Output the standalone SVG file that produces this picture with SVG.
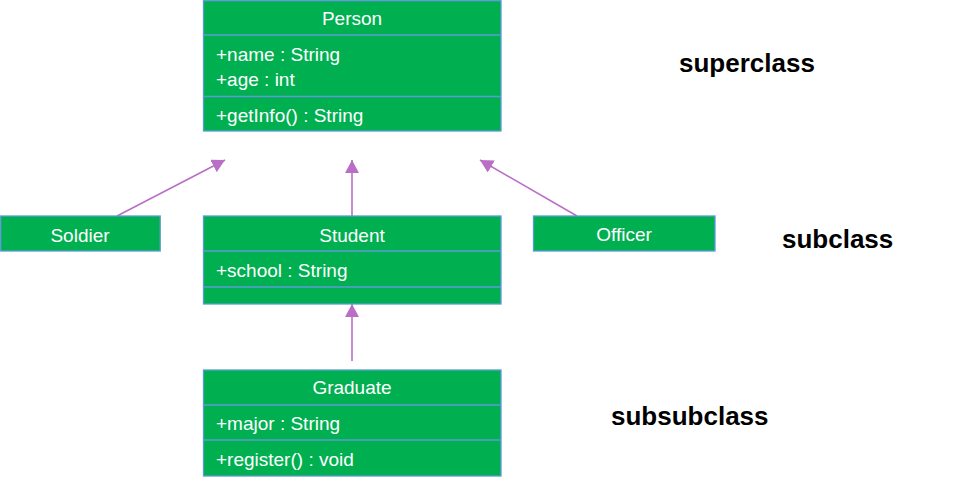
<svg xmlns="http://www.w3.org/2000/svg" width="972" height="477" viewBox="0 0 972 477">
<defs>
<style>
.box{fill:#00B050;stroke:#5B9BD5;stroke-width:1.3}
.div{stroke:#5B9BD5;stroke-width:1.3}
.t{font-family:"Liberation Sans",Arial,sans-serif;font-size:19px;fill:#FFFFFF}
.c{text-anchor:middle}
.lbl{font-family:"Liberation Sans",Arial,sans-serif;font-size:26px;font-weight:bold;fill:#000000}
.conn{stroke:#BA6FC6;stroke-width:1.6;fill:none;marker-end:url(#tri)}
</style>
<marker id="tri" markerUnits="userSpaceOnUse" markerWidth="14" markerHeight="14" viewBox="0 0 14 14" refX="13" refY="7" orient="auto">
<path d="M0,0 L13,7 L0,14 Z" fill="#BA6FC6"/>
</marker>
</defs>
<rect width="972" height="477" fill="#FFFFFF"/>
<g id="connectors">
<line class="conn" x1="117" y1="216" x2="225" y2="160"/>
<line class="conn" x1="352" y1="216" x2="352" y2="160"/>
<line class="conn" x1="577" y1="216" x2="480" y2="160"/>
<line class="conn" x1="352" y1="361" x2="352" y2="304"/>
</g>
<g id="person">
<rect class="box" x="203.5" y="0.7" width="297.5" height="130.3"/>
<line class="div" x1="203.5" y1="35" x2="501" y2="35"/>
<line class="div" x1="203.5" y1="96.5" x2="501" y2="96.5"/>
<text class="t c" x="352" y="25">Person</text>
<text class="t" x="216" y="61">+name : String</text>
<text class="t" x="216" y="86">+age : int</text>
<text class="t" x="216" y="122">+getInfo() : String</text>
</g>
<g id="soldier">
<rect class="box" x="0.7" y="216" width="159.5" height="35"/>
<text class="t c" x="80" y="242">Soldier</text>
</g>
<g id="student">
<rect class="box" x="203.5" y="216" width="297.5" height="88"/>
<line class="div" x1="203.5" y1="251" x2="501" y2="251"/>
<line class="div" x1="203.5" y1="287" x2="501" y2="287"/>
<text class="t c" x="352" y="242">Student</text>
<text class="t" x="216" y="277">+school : String</text>
</g>
<g id="officer">
<rect class="box" x="533.5" y="216" width="181.5" height="35"/>
<text class="t c" x="624" y="241">Officer</text>
</g>
<g id="graduate">
<rect class="box" x="203.5" y="370" width="297.5" height="106"/>
<line class="div" x1="203.5" y1="405" x2="501" y2="405"/>
<line class="div" x1="203.5" y1="440" x2="501" y2="440"/>
<text class="t c" x="352" y="394">Graduate</text>
<text class="t" x="216" y="430">+major : String</text>
<text class="t" x="216" y="466">+register() : void</text>
</g>
<g id="labels">
<text class="lbl" x="679" y="72">superclass</text>
<text class="lbl" x="782" y="248">subclass</text>
<text class="lbl" x="611" y="425">subsubclass</text>
</g>
</svg>
